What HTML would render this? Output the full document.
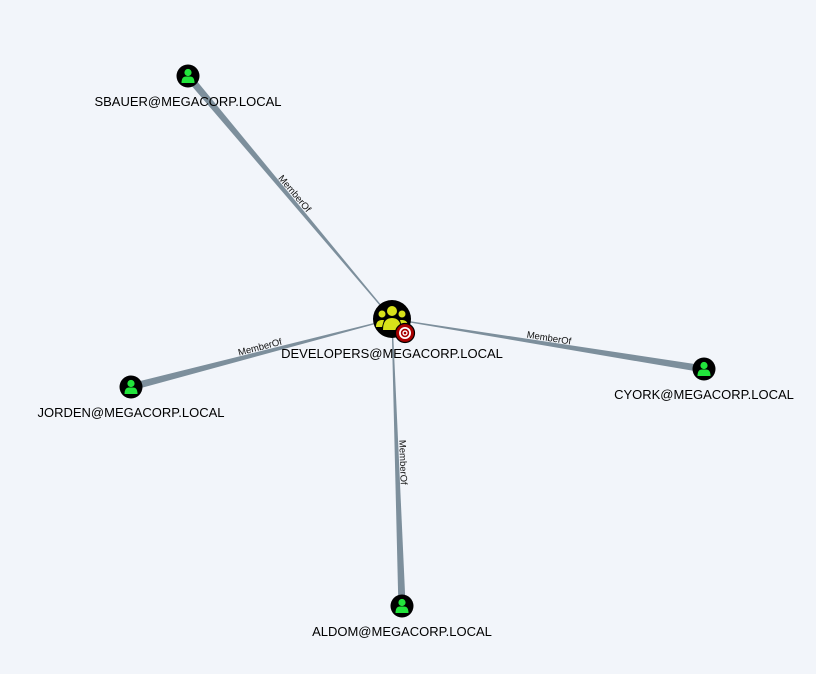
<!DOCTYPE html>
<html><head><meta charset="utf-8"><style>
html,body{margin:0;padding:0;background:#f2f5fa;}
svg{display:block;font-family:"Liberation Sans",sans-serif;}
</style></head><body>
<svg id="g" width="816" height="674"></svg>
<script>
const nodeNames=["SBAUER@MEGACORP.LOCAL","JORDEN@MEGACORP.LOCAL","CYORK@MEGACORP.LOCAL","ALDOM@MEGACORP.LOCAL"];
const nodeX=[188,131,704,402];
const nodeY=[76,387,369,606];
const edgeLabels=["MemberOf","MemberOf","MemberOf","MemberOf"];
const centerName="DEVELOPERS@MEGACORP.LOCAL";
const centerX=392, centerY=319;
const NS="http://www.w3.org/2000/svg";
const svg=document.getElementById('g');
function mk(t,a,p){const e=document.createElementNS(NS,t);for(const k in a)e.setAttribute(k,a[k]);(p||svg).appendChild(e);return e;}
nodeNames.forEach((n,i)=>{
  const x1=centerX,y1=centerY,x2=nodeX[i],y2=nodeY[i];
  const dx=x2-x1,dy=y2-y1,L=Math.hypot(dx,dy),ux=dx/L,uy=dy/L,px=-uy,py=ux;
  const w0=0.5,w1=3.6;
  const pts=[[x1+px*w0,y1+py*w0],[x2+px*w1,y2+py*w1],[x2-px*w1,y2-py*w1],[x1-px*w0,y1-py*w0]].map(p=>p.join(',')).join(' ');
  const e=mk('polygon',{points:pts,fill:'#7d8f9c'});
  
  
  let ang=Math.atan2(dy,dx)*180/Math.PI;
  if(ang>90)ang-=180; if(ang<-90)ang+=180;
  const mx=x1+dx*0.5,my=y1+dy*0.5;
  const t=mk('text',{x:mx,y:my-3,'font-size':9.5,'text-anchor':'middle',fill:'#111',transform:`rotate(${ang} ${mx} ${my})`});
  t.textContent=edgeLabels[i];
  
  
});
nodeNames.forEach((n,i)=>{
  const g=mk('g',{});
  
  
  const x=nodeX[i],y=nodeY[i];
  mk('circle',{cx:x,cy:y,r:11.5,fill:'#000'},g);
  mk('circle',{cx:x,cy:y-3.5,r:3.6,fill:'#22e53c'},g);
  mk('path',{d:`M${x-6.5},${y+7} Q${x-6.5},${y+0.5} ${x-2},${y+0.5} L${x+2},${y+0.5} Q${x+6.5},${y+0.5} ${x+6.5},${y+7} Z`,fill:'#22e53c'},g);
  const t=mk('text',{x:x,y:y+30,'font-size':13,'text-anchor':'middle',fill:'#000'},g);
  t.textContent=n;
  
  
});
const cg=mk('g',{});


const cx=centerX,cy=centerY;
mk('circle',{cx:cx,cy:cy,r:19,fill:'#000'},cg);
const y='#d8e21a';
mk('circle',{cx:cx,cy:cy-8,r:5,fill:y},cg);
mk('circle',{cx:cx-10,cy:cy-5,r:3.5,fill:y},cg);
mk('circle',{cx:cx+10,cy:cy-5,r:3.5,fill:y},cg);
mk('path',{d:`M${cx-9},${cy+11} Q${cx-9},${cy-1} ${cx},${cy-1} Q${cx+9},${cy-1} ${cx+9},${cy+11} Z`,fill:y},cg);
mk('path',{d:`M${cx-16},${cy+8} Q${cx-16},${cy+1} ${cx-10},${cy+1} L${cx-8},${cy+1} L${cx-10},${cy+8} Z`,fill:y},cg);
mk('path',{d:`M${cx+16},${cy+8} Q${cx+16},${cy+1} ${cx+10},${cy+1} L${cx+8},${cy+1} L${cx+10},${cy+8} Z`,fill:y},cg);
const tx=cx+13,ty=cy+14;
mk('circle',{cx:tx,cy:ty,r:9.5,fill:'#a00',stroke:'#000','stroke-width':1.2},cg);
mk('circle',{cx:tx,cy:ty,r:6,fill:'#fff'},cg);
mk('circle',{cx:tx,cy:ty,r:4.2,fill:'#a00'},cg);
mk('circle',{cx:tx,cy:ty,r:2.6,fill:'#fff'},cg);
mk('circle',{cx:tx,cy:ty,r:1.3,fill:'#a00'},cg);
const ct=mk('text',{x:cx,y:cy+39,'font-size':13,'text-anchor':'middle',fill:'#000'},cg);
ct.textContent=centerName;


</script>
</body></html>
